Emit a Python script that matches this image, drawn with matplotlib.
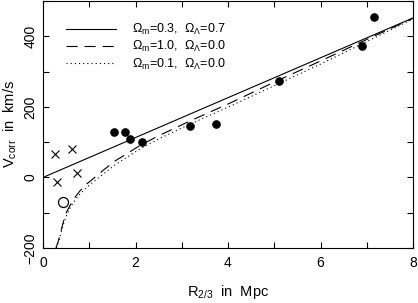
import matplotlib
matplotlib.use("Agg")
import matplotlib.pyplot as plt
from matplotlib.ticker import MultipleLocator

plt.rcParams['font.family'] = ['Liberation Sans', 'DejaVu Sans']
plt.rcParams['mathtext.fontset'] = 'custom'
plt.rcParams['mathtext.rm'] = 'Liberation Sans'
plt.rcParams['mathtext.it'] = 'Liberation Sans'
plt.rcParams['lines.scale_dashes'] = False

# Filled circles
R_fill = [1.53, 1.77, 1.88, 2.14, 3.18, 3.73, 5.10, 6.89, 7.16]
V_fill = [130, 130, 110, 99, 146, 152, 272, 372, 454]
# Crosses
R_cross = [0.27, 0.62, 0.30, 0.73]
V_cross = [67, 81, -13, 12]
# Open circle
R_open = [0.44]
V_open = [-70]

# Model curves
R_lam = [0.0, 8.0]
V_lam = [0, 452]

R_m1 = [0.28, 0.33, 0.39, 0.45, 0.51, 0.60, 0.70, 0.80, 0.95, 1.10, 1.30,
        1.55, 1.80, 2.10, 2.50, 3.00, 3.50, 4.00, 5.00, 6.00, 7.00, 8.00]
V_m1 = [-200, -181, -151, -121, -98, -76, -55, -38, -18, -2, 20,
        46, 66, 91, 118, 149, 179, 208, 270, 330, 391, 451]

R_m01 = [0.29, 0.34, 0.40, 0.46, 0.52, 0.60, 0.70, 0.80, 0.95, 1.10, 1.30,
         1.55, 1.80, 2.10, 2.50, 3.00, 3.50, 4.00, 5.00, 6.00, 7.00, 8.00]
V_m01 = [-200, -181, -152, -125, -104, -83, -63, -47, -28, -11, 9,
         35, 56, 81, 109, 140, 170, 199, 260, 321, 385, 449]

labels = [r'$\Omega_{\rm m}$=0.3,  $\Omega_{\Lambda}$=0.7',
          r'$\Omega_{\rm m}$=1.0,  $\Omega_{\Lambda}$=0.0',
          r'$\Omega_{\rm m}$=0.1,  $\Omega_{\Lambda}$=0.0']

fig = plt.figure(figsize=(4.18, 3.03), dpi=100)
ax = fig.add_axes([43/418, 1-248/303, 370/418, 247/303])

ax.plot(R_lam, V_lam, color='black', lw=0.8, label=labels[0])
ax.plot(R_m1, V_m1, color='black', lw=0.8, dashes=(8, 5), label=labels[1])
ax.plot(R_m01, V_m01, color='black', lw=0.8, dashes=(0.8, 2.2), label=labels[2])

ax.plot(R_fill, V_fill, 'o', color='black', ms=5.2, ls='none')
ax.plot(R_cross, V_cross, 'x', color='black', ms=5.5, mew=0.8, ls='none')
ax.plot(R_open, V_open, 'o', mfc='none', mec='black', ms=7.2, mew=0.9, ls='none')

ax.set_xlim(0, 8)
ax.set_ylim(-200, 500)
ax.xaxis.set_major_locator(MultipleLocator(2))
ax.xaxis.set_minor_locator(MultipleLocator(1))
ax.yaxis.set_major_locator(MultipleLocator(200))
ax.yaxis.set_minor_locator(MultipleLocator(100))
ax.tick_params(which='both', direction='in', top=True, right=True,
               length=4, width=0.8, labelsize=10)
ax.tick_params(axis='x', pad=6)
ax.tick_params(axis='y', pad=4)
for lab in ax.get_yticklabels():
    lab.set_rotation(90)
    lab.set_va('center')
for s in ax.spines.values():
    s.set_linewidth(0.8)

ax.set_xlabel(r'R$_{2/3}$  in  Mpc', fontsize=10.5, labelpad=9)
ax.set_ylabel(r'V$_{\rm corr}$  in  km/s', fontsize=10.5, labelpad=3)

ax.legend(loc='upper left', bbox_to_anchor=(0.062, 0.915), frameon=False,
          fontsize=9, handlelength=4.0, handletextpad=1.3,
          labelspacing=0.18, borderpad=0, borderaxespad=0)

fig.savefig('out.png', dpi=100)
